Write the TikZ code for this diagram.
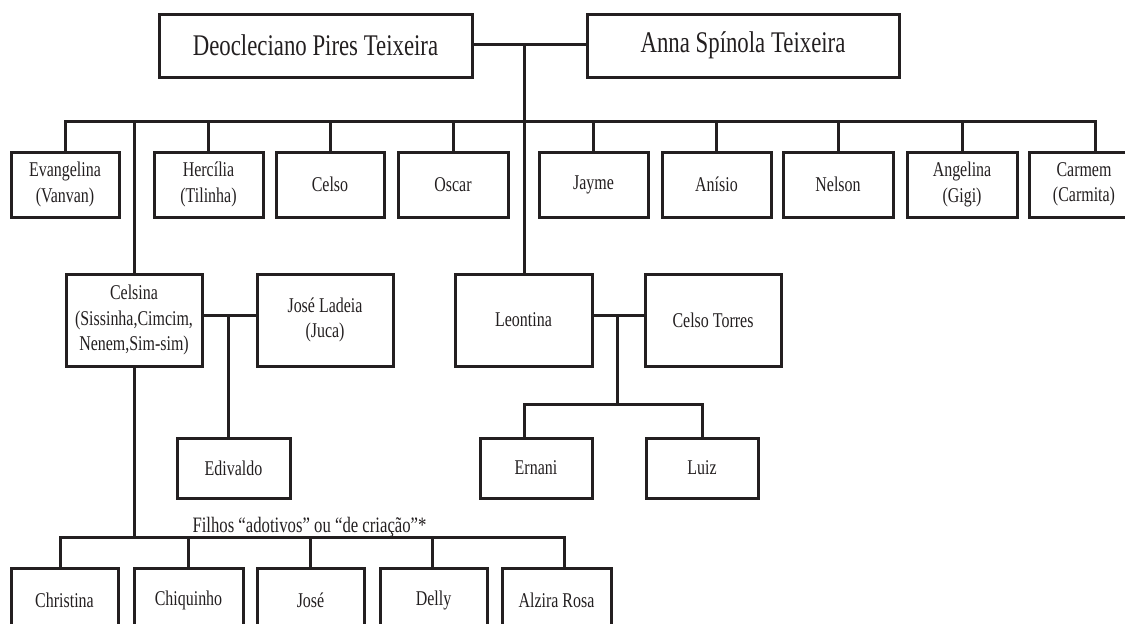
\documentclass[tikz,border=0pt]{standalone}
\usepackage{fontspec}
\setmainfont{Liberation Serif}[FakeStretch=0.76]
\definecolor{ink}{RGB}{35,31,32}
\begin{document}
\begin{tikzpicture}[x=1pt,y=-1pt,
  person/.style={draw=ink, line width=3pt, rectangle, inner sep=0pt, align=center,
    text=ink, font=\fontsize{21}{25.3}\selectfont},
  parent/.style={person, font=\fontsize{30}{36}\selectfont, minimum height=63pt},
  rowtwo/.style={person, minimum height=65pt},
  couple/.style={person, minimum height=92pt, minimum width=136pt},
  grandkid/.style={person, minimum height=60pt},
  adopted/.style={person, minimum height=64pt},
  link/.style={draw=ink, line width=3pt, line cap=rect},
  caption/.style={text=ink, inner sep=0pt, font=\fontsize{22}{26}\selectfont}]
\useasboundingbox (0,0) rectangle (1125,624);
\clip (0,0) rectangle (1125,624);
% parents
\node[parent, minimum width=313pt] (deo) at (315.5,45.5) {Deocleciano Pires Teixeira};
\node[parent, minimum width=312pt] (anna) at (743,45.5) {Anna Spínola Teixeira};
% children row
\node[rowtwo, minimum width=108pt] (evan) at (65,184.5) {Evangelina\\(Vanvan)};
\node[rowtwo, minimum width=109pt] (herc) at (208.5,184.5) {Hercília\\(Tilinha)};
\node[rowtwo, minimum width=108pt] (celso) at (330,184.5) {Celso};
\node[rowtwo, minimum width=110pt] (oscar) at (453,184.5) {Oscar};
\node[rowtwo, minimum width=109pt] (jayme) at (593.5,184.5) {Jayme};
\node[rowtwo, minimum width=109pt] (anisio) at (716.5,184.5) {Anísio};
\node[rowtwo, minimum width=110pt] (nelson) at (838,184.5) {Nelson};
\node[rowtwo, minimum width=110pt] (angel) at (962,184.5) {Angelina\\(Gigi)};
\node[rowtwo, minimum width=110pt] (carm) at (1084,184.5) {Carmem\\(Carmita)};
% couples
\node[couple] (celsina) at (134,320) {Celsina\\(Sissinha,Cimcim,\\Nenem,Sim-sim)};
\node[couple] (jose) at (325,320) {José Ladeia\\(Juca)};
\node[couple, minimum width=137pt] (leon) at (523.5,320) {Leontina};
\node[couple] (ct) at (713,320) {Celso Torres};
% grandchildren
\node[grandkid, minimum width=113pt] (edi) at (233.5,468) {Edivaldo};
\node[grandkid, minimum width=112pt] (ern) at (536,468) {Ernani};
\node[grandkid, minimum width=112pt] (luiz) at (702,468) {Luiz};
% adopted
\node[adopted, minimum width=107pt] (chr) at (64.5,600) {Christina};
\node[adopted, minimum width=109pt] (chq) at (188.5,600) {Chiquinho};
\node[adopted, minimum width=107pt] (jos) at (310.5,600) {José};
\node[adopted, minimum width=107pt] (del) at (433.5,600) {Delly};
\node[adopted, minimum width=109pt] (alz) at (556.5,600) {Alzira Rosa};
\node[caption, anchor=base] (lbl) at (309.5,532) {Filhos “adotivos” ou “de criação”*};
% connectors: parents
\coordinate (j0) at (524,44);
\draw[link] (deo.east |- j0) -- (anna.west |- j0);
\draw[link] (j0) -- (j0 |- leon.north);
\coordinate (barL) at (65,121);
\coordinate (barR) at (1095,121);
\draw[link] (barL) -- (barR);
\foreach \n in {evan,herc,celso,oscar,jayme,anisio,nelson,angel}
  \draw[link] (\n.north) -- (\n.north |- barL);
\draw[link] (barR) -- (barR |- carm.north);
\draw[link] (celsina.north |- barL) -- (celsina.north);
% Celsina + José Ladeia
\coordinate (j1) at (228,315);
\draw[link] (celsina.east |- j1) -- (jose.west |- j1);
\draw[link] (j1) -- (j1 |- edi.north);
% Leontina + Celso Torres
\coordinate (j2) at (617,315);
\coordinate (kb) at (617,404);
\coordinate (kbL) at (524,404);
\coordinate (kbR) at (702,404);
\draw[link] (leon.east |- j2) -- (ct.west |- j2);
\draw[link] (j2) -- (kb);
\draw[link] (kbL) -- (kbR);
\draw[link] (kbL) -- (kbL |- ern.north);
\draw[link] (kbR) -- (kbR |- luiz.north);
% adopted children
\coordinate (bb) at (135,537);
\coordinate (d1) at (60,537);
\coordinate (d2) at (188,537);
\coordinate (d3) at (310,537);
\coordinate (d4) at (432,537);
\coordinate (d5) at (564,537);
\draw[link] (celsina.south) -- (celsina.south |- bb);
\draw[link] (d1) -- (d5);
\draw[link] (d1) -- (d1 |- chr.north);
\draw[link] (d2) -- (d2 |- chq.north);
\draw[link] (d3) -- (d3 |- jos.north);
\draw[link] (d4) -- (d4 |- del.north);
\draw[link] (d5) -- (d5 |- alz.north);
\end{tikzpicture}
\end{document}
